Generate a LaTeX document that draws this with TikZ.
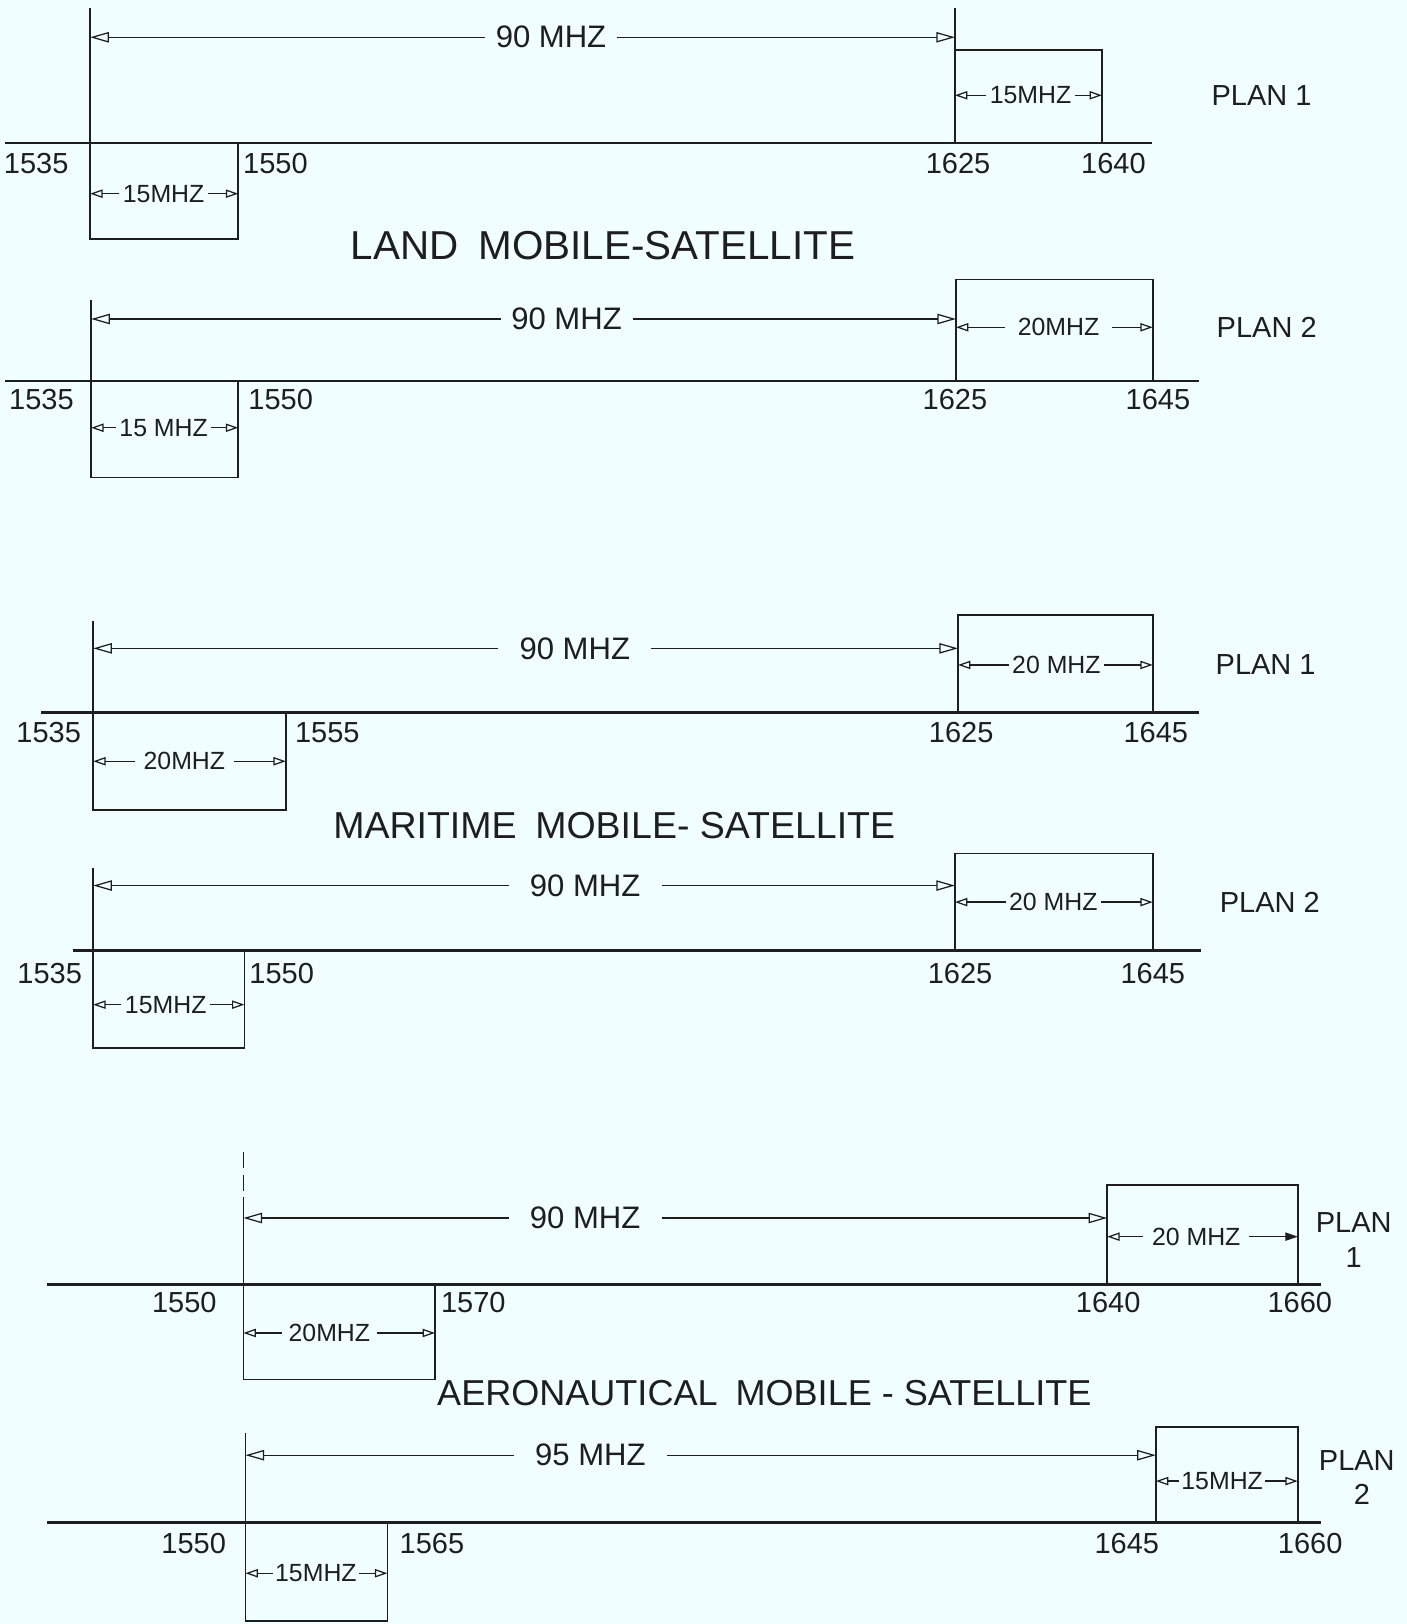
\documentclass[tikz,border=0pt]{standalone}
\usepackage{fontspec}
\setmainfont{Liberation Sans}
\usetikzlibrary{arrows.meta}
\definecolor{paper}{HTML}{F0FEFF}
\definecolor{ink}{HTML}{1E1E1E}
\tikzset{
  axisline/.style={line width=1.3pt, draw=ink},
  edge/.style={line width=0.8pt, draw=ink},
  dimline/.style={line width=0.6pt, draw=ink, -{Triangle[open,length=9pt,width=5pt]}},
  smalldim/.style={line width=0.6pt, draw=ink, -{Triangle[open,length=6pt,width=4pt]}},
  spanlab/.style={font=\fontsize{15}{18}\selectfont, inner sep=5pt, text=ink},
  boxlab/.style={font=\fontsize{12}{14}\selectfont, inner sep=1.5pt, text=ink},
  numlab/.style={font=\fontsize{14}{16}\selectfont, inner sep=0pt, text=ink},
  planlab/.style={font=\fontsize{14}{16}\selectfont, inner sep=0pt, text=ink},
  titlelab/.style={inner sep=0pt, text=ink}
}
\begin{document}
\begin{tikzpicture}[x=0.5pt,y=-0.5pt]
\fill[paper] (0,0) rectangle (1358,1568);
\useasboundingbox (0,0) rectangle (1358,1568);

%% ---------------- Row 1 : Land, Plan 1
\coordinate (r1axL) at (5,138);   \coordinate (r1axR) at (1112,138);
\coordinate (r1vL) at (87,8);     \coordinate (r1vLb) at (87,138);
\coordinate (r1vR) at (922,8);
\draw[axisline] (r1axL) -- (r1axR);
\draw[edge] (r1vL) -- (r1vLb);
\draw[edge] (r1vR) -- (922,48);
\draw[edge] (922,48) rectangle (1064,138);
\draw[edge] (87,138) rectangle (230,231);
\node[spanlab] (r1span) at (532,36) {90 MHZ};
\coordinate (r1aL) at (87,36); \coordinate (r1aR) at (922,36);
\draw[dimline] (r1span.west) -- (r1aL);
\draw[dimline] (r1span.east) -- (r1aR);
\node[boxlab] (r1up) at (995,92) {15MHZ};
\coordinate (r1uL) at (922,92); \coordinate (r1uR) at (1064,92);
\draw[smalldim] (r1up.west) -- (r1uL);
\draw[smalldim] (r1up.east) -- (r1uR);
\node[boxlab] (r1lo) at (158,187) {15MHZ};
\coordinate (r1lL) at (87,187); \coordinate (r1lR) at (230,187);
\draw[smalldim] (r1lo.west) -- (r1lL);
\draw[smalldim] (r1lo.east) -- (r1lR);
\node[numlab] (r1n1) at (35,158) {1535};
\node[numlab] (r1n2) at (266,158) {1550};
\node[numlab] (r1n3) at (925,158) {1625};
\node[numlab] (r1n4) at (1075,158) {1640};
\node[planlab] (r1plan) at (1218,92) {PLAN 1};
\node[titlelab, font=\fontsize{19.5}{22}\selectfont] (t1) at (582,237) {LAND\enspace MOBILE-SATELLITE};

%% ---------------- Row 2 : Land, Plan 2
\coordinate (r2axL) at (5,368);   \coordinate (r2axR) at (1158,368);
\coordinate (r2vL) at (88,290);   \coordinate (r2vLb) at (88,368);
\draw[axisline] (r2axL) -- (r2axR);
\draw[edge] (r2vL) -- (r2vLb);
\draw[edge] (923,270) rectangle (1113,368);
\draw[edge] (88,368) rectangle (230,461);
\node[spanlab] (r2span) at (547,308) {90 MHZ};
\coordinate (r2aL) at (88,308); \coordinate (r2aR) at (923,308);
\draw[dimline] (r2span.west) -- (r2aL);
\draw[dimline] (r2span.east) -- (r2aR);
\node[boxlab, inner sep=6pt] (r2up) at (1022,316) {20MHZ};
\coordinate (r2uL) at (923,316); \coordinate (r2uR) at (1113,316);
\draw[smalldim] (r2up.west) -- (r2uL);
\draw[smalldim] (r2up.east) -- (r2uR);
\node[boxlab] (r2lo) at (158,413) {15 MHZ};
\coordinate (r2lL) at (88,413); \coordinate (r2lR) at (230,413);
\draw[smalldim] (r2lo.west) -- (r2lL);
\draw[smalldim] (r2lo.east) -- (r2lR);
\node[numlab] (r2n1) at (40,386) {1535};
\node[numlab] (r2n2) at (271,386) {1550};
\node[numlab] (r2n3) at (922,386) {1625};
\node[numlab] (r2n4) at (1118,386) {1645};
\node[planlab] (r2plan) at (1223,316) {PLAN 2};

%% ---------------- Row 3 : Maritime, Plan 1
\coordinate (r3axL) at (40,688);  \coordinate (r3axR) at (1158,688);
\coordinate (r3vL) at (90,600);   \coordinate (r3vLb) at (90,688);
\draw[axisline] (r3axL) -- (r3axR);
\draw[edge] (r3vL) -- (r3vLb);
\draw[edge] (925,594) rectangle (1113,688);
\draw[edge] (90,688) rectangle (276,782);
\node[spanlab, inner sep=10pt] (r3span) at (555,626) {90 MHZ};
\coordinate (r3aL) at (90,626); \coordinate (r3aR) at (925,626);
\draw[dimline] (r3span.west) -- (r3aL);
\draw[dimline] (r3span.east) -- (r3aR);
\node[boxlab] (r3up) at (1020,642) {20 MHZ};
\coordinate (r3uL) at (925,642); \coordinate (r3uR) at (1113,642);
\draw[smalldim] (r3up.west) -- (r3uL);
\draw[smalldim] (r3up.east) -- (r3uR);
\node[boxlab, inner sep=4pt] (r3lo) at (178,735) {20MHZ};
\coordinate (r3lL) at (90,735); \coordinate (r3lR) at (276,735);
\draw[smalldim] (r3lo.west) -- (r3lL);
\draw[smalldim] (r3lo.east) -- (r3lR);
\node[numlab] (r3n1) at (47,707) {1535};
\node[numlab] (r3n2) at (316,707) {1555};
\node[numlab] (r3n3) at (928,707) {1625};
\node[numlab] (r3n4) at (1116,707) {1645};
\node[planlab] (r3plan) at (1222,642) {PLAN 1};
\node[titlelab, font=\fontsize{18.1}{22}\selectfont] (t2) at (593,797) {MARITIME\enspace MOBILE- SATELLITE};

%% ---------------- Row 4 : Maritime, Plan 2
\coordinate (r4axL) at (70,918);  \coordinate (r4axR) at (1160,918);
\coordinate (r4vL) at (90,838);   \coordinate (r4vLb) at (90,918);
\draw[axisline] (r4axL) -- (r4axR);
\draw[edge] (r4vL) -- (r4vLb);
\draw[edge] (922,824) rectangle (1113,918);
\draw[edge] (90,918) rectangle (236,1012);
\node[spanlab, inner sep=10pt] (r4span) at (565,855) {90 MHZ};
\coordinate (r4aL) at (90,855); \coordinate (r4aR) at (922,855);
\draw[dimline] (r4span.west) -- (r4aL);
\draw[dimline] (r4span.east) -- (r4aR);
\node[boxlab] (r4up) at (1017,871) {20 MHZ};
\coordinate (r4uL) at (922,871); \coordinate (r4uR) at (1113,871);
\draw[smalldim] (r4up.west) -- (r4uL);
\draw[smalldim] (r4up.east) -- (r4uR);
\node[boxlab] (r4lo) at (160,970) {15MHZ};
\coordinate (r4lL) at (90,970); \coordinate (r4lR) at (236,970);
\draw[smalldim] (r4lo.west) -- (r4lL);
\draw[smalldim] (r4lo.east) -- (r4lR);
\node[numlab] (r4n1) at (48,940) {1535};
\node[numlab] (r4n2) at (272,940) {1550};
\node[numlab] (r4n3) at (927,940) {1625};
\node[numlab] (r4n4) at (1113,940) {1645};
\node[planlab] (r4plan) at (1226,871) {PLAN 2};

%% ---------------- Row 5 : Aeronautical, Plan 1
\coordinate (r5axL) at (45,1240); \coordinate (r5axR) at (1275,1240);
\coordinate (r5vL) at (235,1112); \coordinate (r5vLm) at (235,1160); \coordinate (r5vLb) at (235,1240);
\draw[axisline] (r5axL) -- (r5axR);
\draw[edge, dashed, dash pattern=on 8pt off 3pt] (r5vL) -- (r5vLm);
\draw[edge] (r5vLm) -- (r5vLb);
\draw[edge] (1069,1144) rectangle (1253,1240);
\draw[edge] (235,1240) rectangle (420,1332);
\node[spanlab, inner sep=10pt] (r5span) at (565,1176) {90 MHZ};
\coordinate (r5aL) at (235,1176); \coordinate (r5aR) at (1069,1176);
\draw[dimline] (r5span.west) -- (r5aL);
\draw[dimline] (r5span.east) -- (r5aR);
\node[boxlab, inner sep=4pt] (r5up) at (1155,1194) {20 MHZ};
\coordinate (r5uL) at (1069,1194); \coordinate (r5uR) at (1253,1194);
\draw[smalldim] (r5up.west) -- (r5uL);
\draw[line width=0.6pt, draw=ink, -{Triangle[length=6pt,width=4pt]}] (r5up.east) -- (r5uR);
\node[boxlab, inner sep=3pt] (r5lo) at (318,1287) {20MHZ};
\coordinate (r5lL) at (235,1287); \coordinate (r5lR) at (420,1287);
\draw[smalldim] (r5lo.west) -- (r5lL);
\draw[smalldim] (r5lo.east) -- (r5lR);
\node[numlab] (r5n1) at (178,1258) {1550};
\node[numlab] (r5n2) at (457,1258) {1570};
\node[numlab] (r5n3) at (1070,1258) {1640};
\node[numlab] (r5n4) at (1255,1258) {1660};
\node[planlab] (r5plan) at (1307,1180) {PLAN};
\node[planlab] (r5plann) at (1307,1214) {1};
\node[titlelab, font=\fontsize{17.4}{22}\selectfont] (t3) at (738,1345) {AERONAUTICAL\enspace MOBILE - SATELLITE};

%% ---------------- Row 6 : Aeronautical, Plan 2
\coordinate (r6axL) at (45,1470); \coordinate (r6axR) at (1275,1470);
\coordinate (r6vL) at (237,1384); \coordinate (r6vLb) at (237,1470);
\draw[axisline] (r6axL) -- (r6axR);
\draw[edge] (r6vL) -- (r6vLb);
\draw[edge] (1116,1378) rectangle (1253,1470);
\draw[edge] (237,1470) rectangle (374,1565);
\node[spanlab, inner sep=10pt] (r6span) at (570,1405) {95 MHZ};
\coordinate (r6aL) at (237,1405); \coordinate (r6aR) at (1116,1405);
\draw[dimline] (r6span.west) -- (r6aL);
\draw[dimline] (r6span.east) -- (r6aR);
\node[boxlab, inner sep=1pt] (r6up) at (1180,1430) {15MHZ};
\coordinate (r6uL) at (1116,1430); \coordinate (r6uR) at (1253,1430);
\draw[smalldim] (r6up.west) -- (r6uL);
\draw[smalldim] (r6up.east) -- (r6uR);
\node[boxlab, inner sep=1pt] (r6lo) at (305,1519) {15MHZ};
\coordinate (r6lL) at (237,1519); \coordinate (r6lR) at (374,1519);
\draw[smalldim] (r6lo.west) -- (r6lL);
\draw[smalldim] (r6lo.east) -- (r6lR);
\node[numlab] (r6n1) at (187,1490) {1550};
\node[numlab] (r6n2) at (417,1490) {1565};
\node[numlab] (r6n3) at (1088,1490) {1645};
\node[numlab] (r6n4) at (1265,1490) {1660};
\node[planlab] (r6plan) at (1310,1410) {PLAN};
\node[planlab] (r6plann) at (1315,1443) {2};
\end{tikzpicture}
\end{document}
